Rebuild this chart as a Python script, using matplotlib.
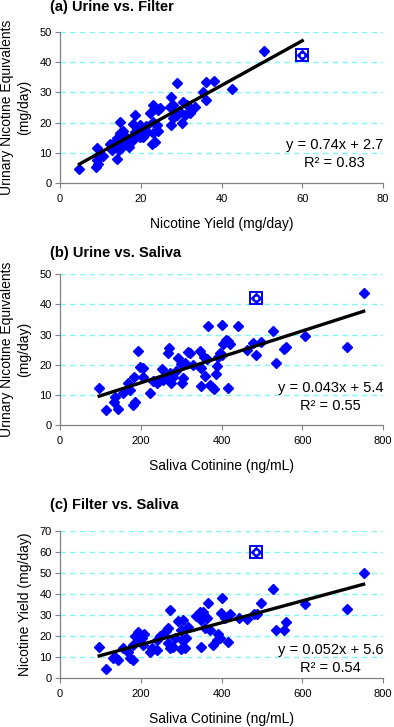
import matplotlib
matplotlib.use("Agg")
import matplotlib.pyplot as plt
import numpy as np

plt.rcParams['font.family'] = ['Liberation Sans', 'DejaVu Sans']

# (a) urine vs. filter
filter_a = [4.8, 9.2, 9.1, 9.3, 9.0, 10.6, 13.0, 14.2, 14.9, 13.5, 14.0, 14.5, 14.8, 15.2,
            15.5, 16.0, 16.3, 14.6, 15.0, 12.5, 18.6, 18.2, 19.0, 19.3, 18.5, 16.6, 17.3,
            17.0, 20.5, 21.5, 19.8, 20.5, 19.8, 17.5, 18.0, 21.2, 23.1, 24.3, 22.3, 23.1,
            24.0, 23.1, 23.5, 24.3, 22.8, 24.8, 27.2, 28.1, 27.6, 29.1, 28.0, 28.9, 27.6,
            30.1, 30.5, 31.4, 33.4, 32.2, 31.0, 29.5, 35.3, 36.1, 36.1, 38.1, 42.7, 50.5]
urine_a = [4.6, 11.7, 7.5, 6.3, 5.2, 8.9, 10.9, 7.8, 20.3, 13.5, 15.0, 12.0, 16.5, 14.0,
           17.2, 15.5, 12.8, 10.8, 11.5, 13.0, 22.5, 19.5, 18.0, 16.0, 17.0, 12.5, 13.8,
           11.8, 15.3, 17.0, 19.2, 16.6, 15.2, 15.0, 14.2, 19.0, 25.8, 24.2, 23.1, 20.3,
           19.2, 16.5, 13.6, 17.2, 12.8, 24.8, 25.3, 25.8, 28.6, 33.0, 21.4, 22.5, 19.2,
           19.8, 26.9, 25.8, 25.3, 23.1, 22.5, 24.0, 30.0, 33.4, 27.5, 33.7, 31.1, 43.8]

# (b) urine vs. saliva
saliva_b = [97, 114, 134, 136, 144, 155, 169, 173, 181, 186, 184, 194, 198, 206, 206, 223,
            231, 240, 246, 256, 252, 268, 272, 280, 270, 268, 276, 293, 287, 300, 305, 303,
            310, 318, 322, 329, 346, 346, 350, 350, 356, 363, 359, 367, 371, 377, 381, 386,
            388, 392, 396, 400, 400, 404, 410, 416, 421, 417, 441, 462, 477, 485, 499, 528,
            536, 554, 559, 606, 712, 752]
urine_b = [12.2, 5.0, 7.7, 9.4, 5.3, 10.5, 13.8, 11.6, 6.6, 7.7, 16.0, 24.6, 19.4, 18.8,
           16.0, 10.5, 14.5, 14.0, 14.5, 15.0, 18.5, 16.5, 17.2, 16.0, 25.6, 23.8, 14.0,
           22.3, 18.0, 20.3, 15.6, 14.0, 20.5, 24.3, 23.8, 20.0, 24.7, 19.4, 18.8, 13.0,
           22.5, 21.8, 16.3, 32.9, 13.3, 12.6, 12.0, 17.0, 19.6, 22.7, 24.0, 23.2, 33.3,
           27.0, 28.3, 28.0, 26.8, 12.2, 32.9, 24.9, 27.1, 23.2, 27.7, 31.2, 20.7, 25.1,
           25.8, 29.5, 25.8, 43.9]

# (c) filter vs. saliva
saliva_c = [97, 114, 132, 137, 144, 155, 169, 173, 181, 181, 186, 194, 198, 204, 208, 196,
            206, 223, 227, 239, 239, 248, 256, 262, 268, 272, 268, 272, 280, 285, 293, 300,
            303, 300, 305, 313, 310, 318, 338, 346, 350, 354, 350, 358, 363, 367, 371, 379,
            388, 392, 396, 400, 398, 408, 417, 421, 444, 462, 480, 487, 499, 528, 536, 554,
            559, 606, 712, 752]
filter_c = [15.0, 4.6, 9.5, 10.3, 8.7, 14.3, 12.7, 9.5, 8.7, 16.0, 20.0, 22.0, 20.5, 19.0,
            21.0, 17.5, 15.8, 12.7, 14.3, 13.5, 18.0, 20.0, 21.0, 22.5, 24.0, 32.5, 17.0,
            14.5, 15.0, 19.0, 27.0, 23.0, 18.0, 14.0, 27.7, 19.0, 14.5, 24.5, 29.5, 31.7,
            27.7, 31.5, 15.0, 24.0, 28.5, 35.6, 23.0, 15.8, 18.0, 21.0, 19.0, 38.0, 30.9,
            28.5, 17.4, 30.6, 28.8, 28.2, 30.4, 30.6, 36.0, 42.4, 23.0, 23.0, 26.6, 35.2,
            32.8, 50.2]

# highlighted subject (boxed point)
outlier_filter = 60.0
outlier_urine = 42.3
outlier_saliva = 485

# reported linear fits
fit_a = (0.74, 2.7, 0.83)
fit_b = (0.043, 5.4, 0.55)
fit_c = (0.052, 5.6, 0.54)

BLUE = "#0000FF"
GRID = "#7FF5F5"
SPINE = "#808080"


def scatter_panel(ax, x, y, ox, oy, fit, xlim, ylim, ystep, xstep, xlabel, ylabel,
                  eq_y, eq_text):
    slope, intercept, r2 = fit
    ax.set_xlim(*xlim)
    ax.set_ylim(*ylim)
    ax.set_yticks(np.arange(ylim[0], ylim[1] + 1, ystep))
    ax.set_xticks(np.arange(xlim[0], xlim[1] + 1, xstep))

    # dashed cyan grid, not on the zero line
    for yy in np.arange(ystep, ylim[1] + 1, ystep):
        ax.axhline(yy, color=GRID, lw=1.0, ls=(0, (4, 3)), zorder=0)

    ax.plot(x, y, 'D', color=BLUE, ms=4.8, mec=BLUE, zorder=3, clip_on=False)
    ax.plot([ox], [oy], 'D', color=BLUE, ms=4.8, zorder=3, clip_on=False)
    ax.plot([ox], [oy], 's', mfc='none', mec=BLUE, ms=9, mew=1.4, zorder=3,
            clip_on=False)
    ax.plot([ox], [oy], 'o', color='white', ms=1.6, zorder=4, clip_on=False)

    # regression line over the data range
    xs = np.array([min(x), max(max(x), ox)])
    ax.plot(xs, slope * xs + intercept, color='black', lw=2.4, zorder=5)

    ax.text(1.0, eq_y, eq_text % (slope, intercept) + "\nR² = %.2f" % r2,
            transform=ax.transAxes, ha='right', va='center', multialignment='center',
            fontsize=10.5, linespacing=1.35)

    for side in ['top', 'right']:
        ax.spines[side].set_visible(False)
    for side in ['left', 'bottom']:
        ax.spines[side].set_color(SPINE)
        ax.spines[side].set_linewidth(0.9)
    ax.tick_params(direction='out', length=3.5, width=0.8, color=SPINE, labelsize=8)
    ax.tick_params(axis='x', pad=4.5)
    ax.tick_params(axis='y', pad=2.5)
    ax.set_xlabel(xlabel, fontsize=10, labelpad=9)
    ax.set_ylabel(ylabel, fontsize=10, linespacing=1.3)
    ax.yaxis.set_label_coords(-0.088, 0.5)


def main():
    fig = plt.figure(figsize=(3.94, 7.27), dpi=100)

    ax_a = fig.add_axes([0.1523, 0.7483, 0.8198, 0.2077])
    ax_b = fig.add_axes([0.1523, 0.4154, 0.8198, 0.2073])
    ax_c = fig.add_axes([0.1523, 0.0670, 0.8198, 0.2026])

    scatter_panel(ax_a, filter_a, urine_a, outlier_filter, outlier_urine, fit_a,
                  (0, 80), (0, 50), 10, 20, "Nicotine Yield (mg/day)",
                  "Urinary Nicotine Equivalents\n(mg/day)", 0.19, "y = %.2fx + %.1f")
    scatter_panel(ax_b, saliva_b, urine_b, outlier_saliva, outlier_urine, fit_b,
                  (0, 800), (0, 50), 10, 200, "Saliva Cotinine (ng/mL)",
                  "Urinary Nicotine Equivalents\n(mg/day)", 0.185, "y = %.3fx + %.1f")
    scatter_panel(ax_c, saliva_c, filter_c, outlier_saliva, outlier_filter, fit_c,
                  (0, 800), (0, 70), 10, 200, "Saliva Cotinine (ng/mL)",
                  "Nicotine Yield (mg/day)", 0.13, "y = %.3fx + %.1f")

    titles = [("(a) Urine vs. Filter", 0.9908), ("(b) Urine vs. Saliva", 0.6524),
              ("(c) Filter vs. Saliva", 0.3054)]
    for text, y in titles:
        fig.text(50 / 394, y, text, fontsize=10.5, fontweight='bold', va='center')

    fig.savefig("out.png", dpi=100)


if __name__ == "__main__":
    main()
